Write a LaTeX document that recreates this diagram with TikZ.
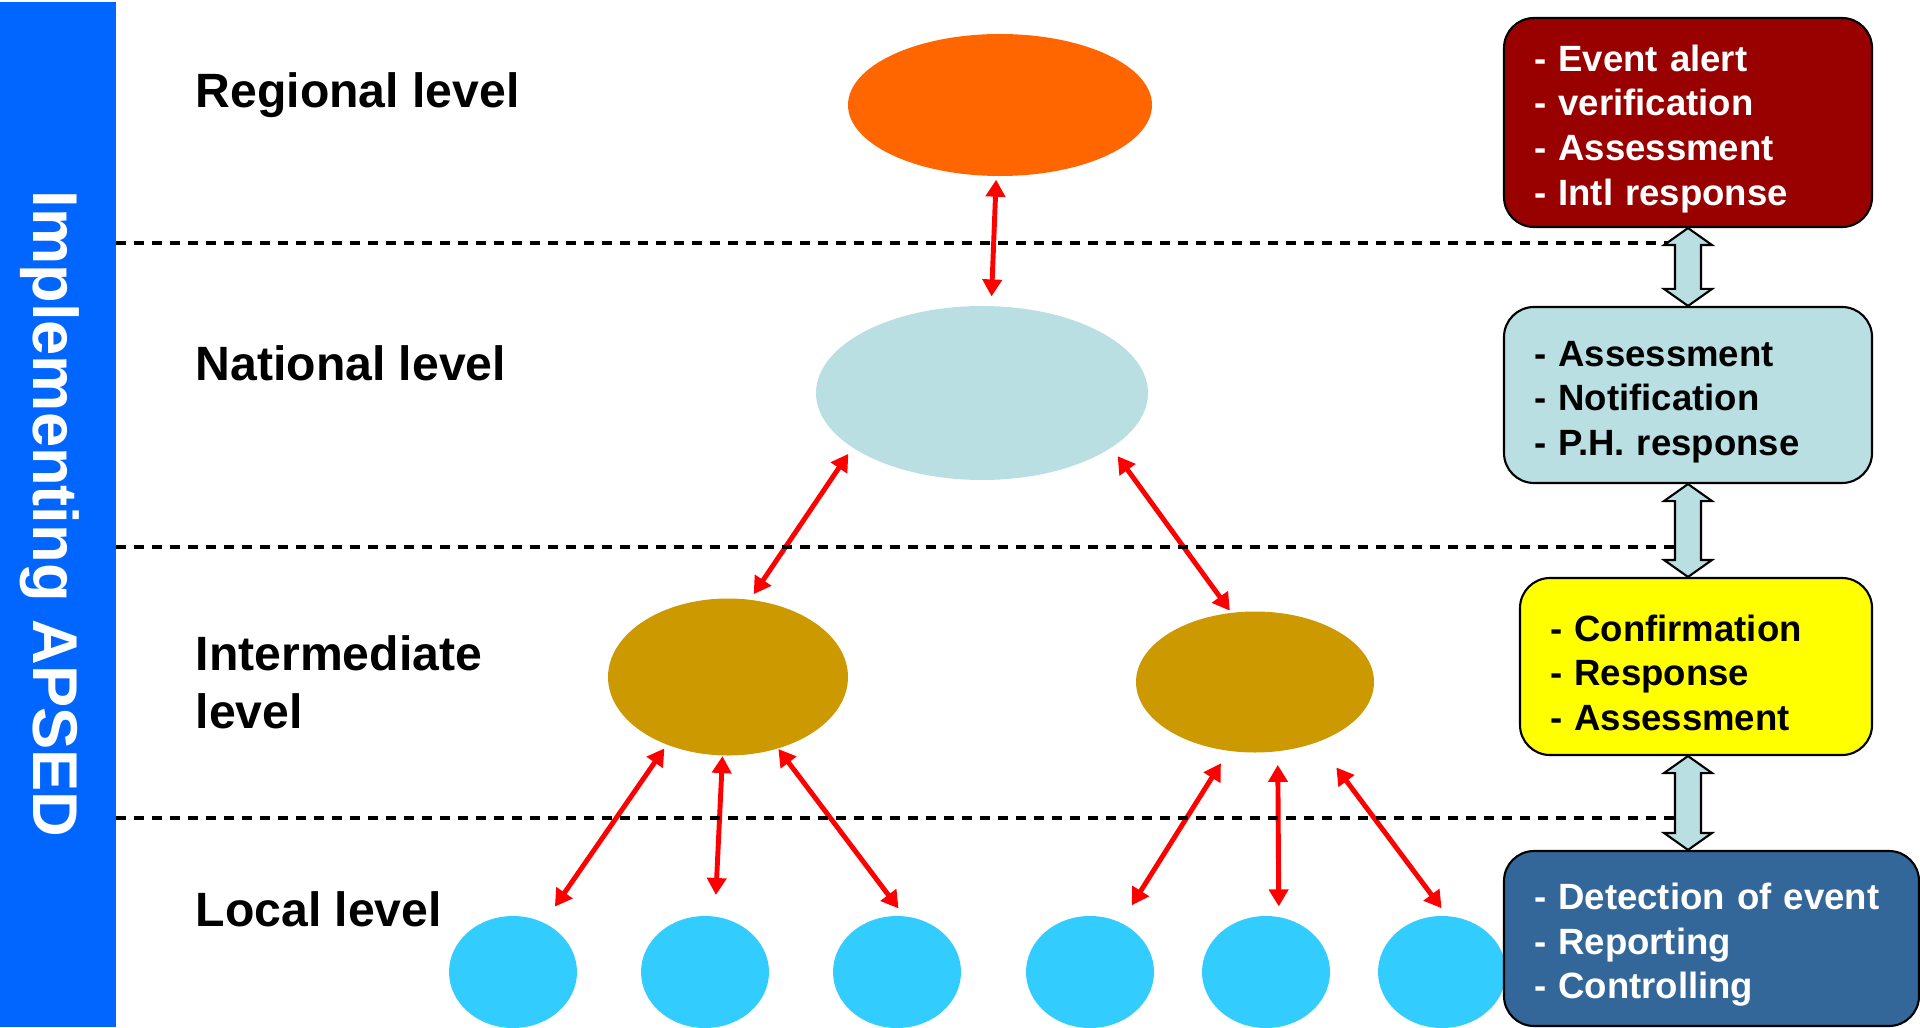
\documentclass[tikz,border=0pt]{standalone}
\usepackage{fontspec}
\setmainfont{Liberation Sans}
\usetikzlibrary{shapes.geometric,arrows.meta,calc}
\definecolor{barblue}{HTML}{0066FF}
\definecolor{regorange}{HTML}{FF6600}
\definecolor{natblue}{HTML}{B9DFE3}
\definecolor{intgold}{HTML}{CC9900}
\definecolor{loccyan}{HTML}{33CCFF}
\definecolor{alertred}{HTML}{990000}
\definecolor{confyellow}{HTML}{FFFF00}
\definecolor{steel}{HTML}{336699}
\tikzset{
  blob/.style={ellipse,inner sep=0pt,fill=#1},
  site/.style={blob=loccyan,minimum width=1.28cm,minimum height=1.12cm},
  tier/.style={font=\fontsize{13.7}{16.5}\selectfont\bfseries,inner sep=0pt},
  link/.style={red,line width=1.4pt,
    {Triangle[length=0.17cm,width=0.19cm]}-{Triangle[length=0.17cm,width=0.19cm]}},
  gaps/.style 2 args={shorten <=#1cm,shorten >=#2cm},
  task/.style={draw,line width=0.6pt,rounded corners=0.3cm,fill=#1,align=left,
    font=\fontsize{10.4}{12.7}\selectfont\bfseries,inner xsep=0.3cm,inner ysep=0pt},
  levelline/.style={dash pattern=on 0.1cm off 0.08cm,line width=0.9pt},
  updown/.style={draw,fill=natblue,line width=0.6pt,line join=miter}
}
% taller first line, so the list sits a little lower in its box
\newcommand{\hi}{\rule{0pt}{0.39cm}}
% hollow two-headed arrow between two stacked boxes
\newcommand{\twoway}[2]{%
  \draw[updown] let \p1=(#1.south -| col), \p2=(#2.north -| col) in
    (\p1) -- ++(0.24,-0.17) -- ++(-0.11,0) -- (\x2+0.13cm,\y2+0.17cm)
    -- ++(0.11,0) -- (\p2) -- ++(-0.24,0.17) -- ++(0.11,0)
    -- (\x1-0.13cm,\y1-0.17cm) -- ++(-0.11,0) -- cycle;}
\begin{document}
\begin{tikzpicture}
  \useasboundingbox (0,0) rectangle (19.2,10.27);
  \fill[barblue] (0,0) rectangle (1.16,10.25);
  \node[rotate=-90,anchor=base,text=white,font=\fontsize{18}{20}\selectfont\bfseries]
    (title) at (0.33,5.13) {Implementing APSED};

  \node[tier,anchor=base west] (regl) at (1.95,9.194) {Regional level};
  \node[tier,anchor=base west] (natl) at (1.95,6.46) {National level};
  \node[tier,anchor=north west,align=left] (intl) at (1.95,3.92) {Intermediate\\level};
  \node[tier,anchor=base west] (locl) at (1.95,1.01) {Local level};

  \node[blob=regorange,minimum width=3.04cm,minimum height=1.42cm] (reg) at (10.00,9.22) {};
  \node[blob=natblue,minimum width=3.32cm,minimum height=1.74cm] (nat) at (9.82,6.34) {};
  \node[blob=intgold,minimum width=2.40cm,minimum height=1.57cm] (intA) at (7.28,3.50) {};
  \node[blob=intgold,minimum width=2.38cm,minimum height=1.41cm] (intB) at (12.55,3.45) {};
  \foreach \x [count=\i] in {5.13,7.05,8.97,10.90,12.66,14.42}
    \node[site] (loc\i) at (\x,0.55) {};

  \draw[link,gaps={0.03}{0.09}] (reg.267) -- (nat.84);
  \draw[link,gaps={0.07}{0.06}] (nat.203) -- (intA.74);
  \draw[link,gaps={0.10}{0.02}] (nat.-23) -- (intB.109);
  \draw[link,gaps={0.04}{0.19}] (intA.228) -- (loc1.58);
  \draw[link,gaps={0}{0.21}] (intA.266) -- (loc2.80);
  \draw[link,gaps={0}{0.09}] (intA.-55) -- (loc3.83);
  \draw[link,gaps={0.14}{0.20}] (intB.249) -- (loc4.58);
  \draw[link,gaps={0.13}{0.10}] (intB.-72) -- (loc5.77);
  \draw[link,gaps={0.31}{0.09}] (intB.-44) -- (loc6.85);

  \foreach \y in {7.84,4.80,2.09}
    \draw[levelline] (1.16,\y) -- (16.8,\y);

  \coordinate (col) at (16.88,0);
  \node[task=alertred,text=white,text width=3.08cm,minimum height=2.09cm]
    (alert) at (16.88,9.045) {\hi- Event alert\\- verification\\- Assessment\\- Intl response};
  \node[task=natblue,text width=3.08cm,minimum height=1.76cm]
    (natbox) at (16.88,6.32) {\hi- Assessment\\- Notification\\- P.H. response};
  \node[task=confyellow,text width=2.92cm,minimum height=1.77cm]
    (confirm) at (16.96,3.605) {\hi- Confirmation\\- Response\\- Assessment};
  \node[task=steel,text=white,text width=3.55cm,minimum height=1.75cm]
    (detect) at (17.115,0.885) {\hi- Detection of event\\- Reporting\\- Controlling};

  \twoway{alert}{natbox}
  \twoway{natbox}{confirm}
  \twoway{confirm}{detect}
\end{tikzpicture}
\end{document}
